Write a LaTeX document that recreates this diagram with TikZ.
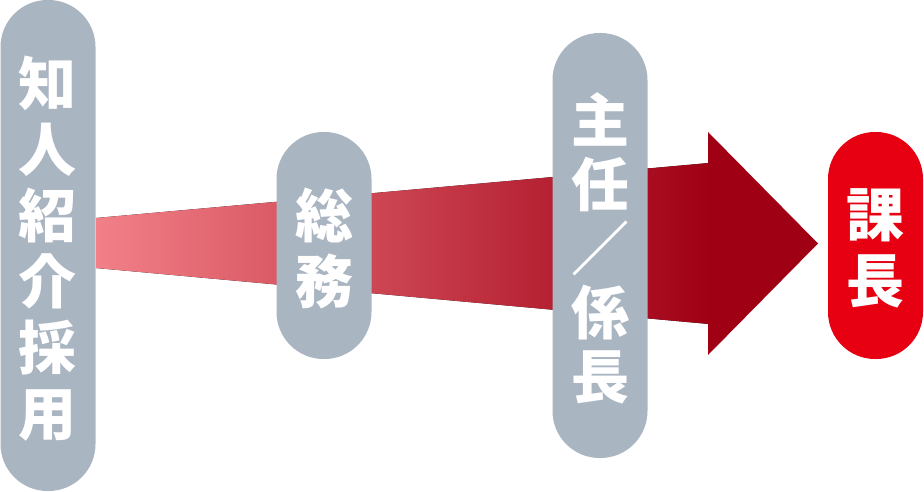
\documentclass[tikz,border=0pt]{standalone}
\usepackage{fontspec}
\usepackage{xcolor}
\usepackage{tikz}
\usetikzlibrary{positioning, calc}
\newfontfamily\cjk{Noto Sans CJK JP}
\definecolor{pillgray}{RGB}{170,181,194}
\definecolor{pillred}{RGB}{230,0,18}
\definecolor{arrowlight}{RGB}{242,128,136}
\definecolor{arrowdark}{RGB}{160,0,20}
\tikzset{
    pill/.style={rectangle, rounded corners=47pt, minimum width=95pt, inner sep=0pt, text depth=-2pt, fill=pillgray, text=white, align=center, font=\cjk\bfseries\fontsize{58}{66}\selectfont},
    goal/.style={pill, fill=pillred}
}

\begin{document}
\begin{tikzpicture}[x=1pt, y=-1pt]
    \useasboundingbox (0,0) rectangle (924,492);

    % Arrow - shaft widens to the right
    \coordinate (tailtop) at (96,218);
    \coordinate (tailbot) at (96,268);
    \coordinate (basetop) at (709,163);
    \coordinate (basebot) at (709,324);
    \fill [left color=arrowlight, right color=arrowdark] (tailtop) -- (basetop) -- (basebot) -- (tailbot) -- cycle;
    \coordinate (headtop) at (708,132);
    \coordinate (headbot) at (708,355);
    \coordinate (tip) at (818,243.5);
    \fill [arrowdark] (headtop) -- (tip) -- (headbot) -- cycle;

    % Steps
    \node (chijin) [pill, minimum height=491pt] at (48,245.5) {知\\人\\紹\\介\\採\\用};
    \node (somu) [pill, minimum height=227pt] at (324,245.5) {総\\務};
    \node (shunin) [pill, minimum height=425pt, font=\cjk\bfseries\fontsize{58}{64}\selectfont] at (600,245.5) {主\\任\\／\\係\\長};
    \node (kacho) [goal, minimum height=227pt] at (875.5,245.5) {課\\長};
\end{tikzpicture}
\end{document}
